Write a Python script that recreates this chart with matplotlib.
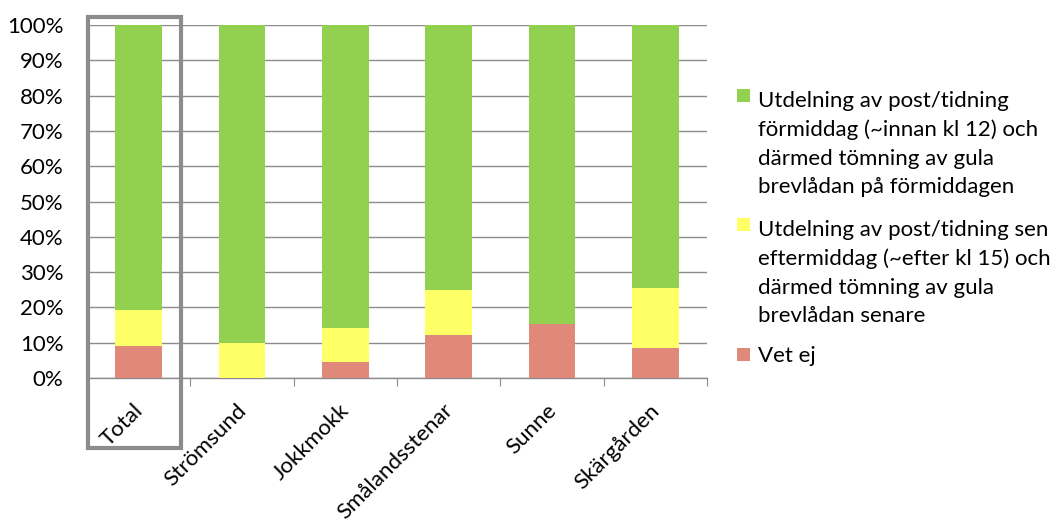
import matplotlib.pyplot as plt
import matplotlib.patches as patches
from matplotlib.ticker import FuncFormatter, FixedLocator
import matplotlib.transforms as mtransforms

categories = ['Total', 'Strömsund', 'Jokkmokk', 'Smålandsstenar', 'Sunne', 'Skärgården']
vet_ej = [9.0, 0.0, 4.5, 12.3, 15.3, 8.4]
eftermiddag = [10.2, 9.8, 9.7, 12.6, 0.0, 17.1]
formiddag = [80.8, 90.2, 85.8, 75.1, 84.7, 74.5]

labels = [
    'Utdelning av post/tidning\nförmiddag (~innan kl 12) och\ndärmed tömning av gula\nbrevlådan på förmiddagen',
    'Utdelning av post/tidning sen\neftermiddag (~efter kl 15) och\ndärmed tömning av gula\nbrevlådan senare',
    'Vet ej',
]
colors = ['#92D050', '#FFFF66', '#E0897B']

plt.rcParams['font.family'] = ['Lato', 'DejaVu Sans']

W, H = 1058, 522
fig = plt.figure(figsize=(W / 100, H / 100), dpi=100)
ax = fig.add_axes([87 / W, 1 - 378 / H, (707 - 87) / W, (378 - 25) / H])

x = list(range(len(categories)))
w = 0.45
b1 = ax.bar(x, vet_ej, w, color=colors[2], zorder=3)
b2 = ax.bar(x, eftermiddag, w, bottom=vet_ej, color=colors[1], zorder=3)
bottom3 = [a + b for a, b in zip(vet_ej, eftermiddag)]
b3 = ax.bar(x, formiddag, w, bottom=bottom3, color=colors[0], zorder=3)

ax.set_xlim(-0.5, len(categories) - 0.5)
ax.set_ylim(0, 100)
ax.set_yticks(range(0, 101, 10))
ax.yaxis.set_major_formatter(FuncFormatter(lambda v, p: f'{int(v)}%'))
ax.grid(axis='y', color='#8c8c8c', linewidth=1, zorder=0)

for s in ['top', 'right']:
    ax.spines[s].set_visible(False)
for s in ['left', 'bottom']:
    ax.spines[s].set_color('#8c8c8c')
    ax.spines[s].set_linewidth(1)

ax.tick_params(axis='y', length=0, labelsize=16, pad=17)
ax.xaxis.set_major_locator(FixedLocator([i - 0.5 for i in range(len(categories) + 1)]))
ax.xaxis.set_major_formatter(FuncFormatter(lambda v, p: ''))
ax.tick_params(axis='x', which='major', length=6, color='#8c8c8c')
ax.xaxis.set_minor_locator(FixedLocator(x))
ax.set_xticklabels(categories, minor=True)
ax.tick_params(axis='x', which='minor', length=0, labelsize=16, pad=16)
offset = mtransforms.ScaledTranslation(-6 / 100, 0, fig.dpi_scale_trans)
for lab in ax.get_xticklabels(minor=True):
    lab.set_rotation(45)
    lab.set_ha('right')
    lab.set_rotation_mode('anchor')
    lab.set_transform(lab.get_transform() + offset)

# highlight box around Total
rect = patches.Rectangle((-0.49, -19.8), 0.9, 122.1, fill=False, edgecolor='#8c8c8c',
                         linewidth=3, clip_on=False, zorder=5)
ax.add_patch(rect)

# legend (square beside the first line of each entry)
pitch = 30
first_baseline = [103, 232, 362]
for lab, col, yb in zip(labels, colors, first_baseline):
    nlines = lab.count('\n') + 1
    fig.patches.append(patches.Rectangle((737 / W, 1 - (yb - 1) / H), 13 / W, 13 / H,
                                         transform=fig.transFigure, facecolor=col,
                                         edgecolor='none'))
    fig.text(758 / W, 1 - (yb + (nlines - 1) * pitch) / H, lab, fontsize=16,
             va='baseline', linespacing=1.53, transform=fig.transFigure)

plt.savefig('out.png', dpi=100)
